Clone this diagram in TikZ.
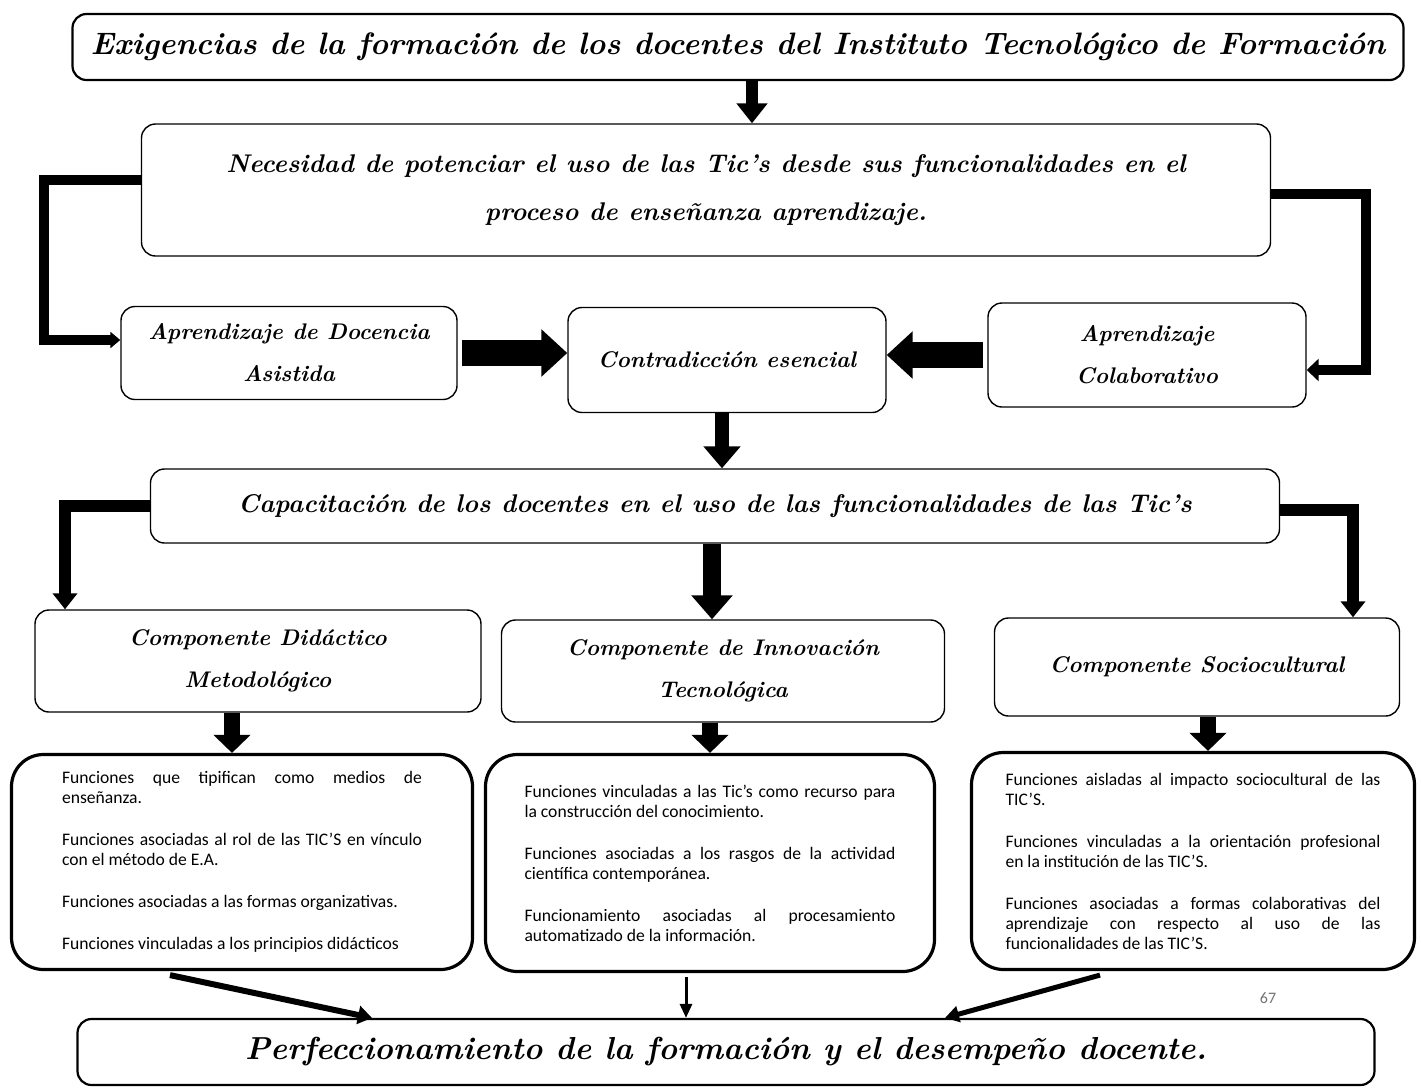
\documentclass[tikz,border=0pt]{standalone}
\usepackage{fontspec}
\newfontfamily\calibri{Carlito}
\usetikzlibrary{arrows.meta}
\hyphenpenalty=10000
\exhyphenpenalty=10000

\tikzset{
  caja/.style={draw, rounded corners=7pt, line width=0.7pt, align=center,
    font=\bfseries\itshape\fontsize{11.3}{21}\selectfont},
  cajafun/.style={draw, rounded corners=16pt, line width=1.6pt, align=justify,
    font=\calibri\fontsize{8.8}{10}\selectfont},
  flecha/.style n args={3}{line width=#1, -{Triangle[width=#2,length=#3]}},
}

\begin{document}
\begin{tikzpicture}[x=0.5pt, y=-0.5pt]
  \useasboundingbox (0,0) rectangle (1421,1089);

  % cajas
  \node[caja, line width=1.1pt, minimum width=665.5pt, minimum height=33pt,
        font=\bfseries\itshape\fontsize{15.5}{18}\selectfont] (exig) at (738,47)
        {Exigencias de la formación de los docentes del Instituto Tecnológico de Formación};
  \node[caja, minimum width=564.5pt, minimum height=66pt,
        font=\bfseries\itshape\fontsize{12.8}{24}\selectfont] (nec) at (706,190)
        {Necesidad de potenciar el uso de las Tic’s desde sus funcionalidades en el\\
         proceso de enseñanza aprendizaje.};
  \node[caja, minimum width=168pt, minimum height=46.5pt] (asis) at (289,353)
        {Aprendizaje de Docencia\\Asistida};
  \node[caja, minimum width=159pt, minimum height=52.5pt] (contra) at (727,360)
        {Contradicción esencial};
  \node[caja, minimum width=159pt, minimum height=52pt] (colab) at (1147,355)
        {Aprendizaje\\Colaborativo};
  \node[caja, minimum width=564.5pt, minimum height=37pt,
        font=\bfseries\itshape\fontsize{12.8}{16}\selectfont] (capac) at (715,506)
        {Capacitación de los docentes en el uso de las funcionalidades de las Tic’s};
  \node[caja, minimum width=223pt, minimum height=51pt] (comp1) at (258,661)
        {Componente Didáctico\\Metodológico};
  \node[caja, minimum width=221.5pt, minimum height=51pt] (comp2) at (723,671)
        {Componente de Innovación\\Tecnológica};
  \node[caja, minimum width=202.5pt, minimum height=49pt] (comp3) at (1197,667)
        {Componente Sociocultural};

  \node[cajafun, text width=180pt, minimum width=230.5pt, minimum height=107.5pt] (fun1) at (242,862)
        {Funciones que tipifican como medios de\linebreak enseñanza.\\[11pt]
         Funciones asociadas al rol de las TIC’S en vínculo\linebreak con el método de E.A.\\[11pt]
         Funciones asociadas a las formas organizativas.\\[11pt]
         Funciones vinculadas a los principios didácticos};
  \node[cajafun, text width=185.5pt, minimum width=224.5pt, minimum height=108.5pt] (fun2) at (710,863)
        {Funciones vinculadas a las Tic’s como recurso para\linebreak la construcción del conocimiento.\\[11pt]
         Funciones asociadas a los rasgos de la actividad\linebreak científica contemporánea.\\[11pt]
         Funcionamiento asociadas al procesamiento\linebreak automatizado de la información.};
  \node[cajafun, text width=187.5pt, minimum width=221.5pt, minimum height=108.5pt] (fun3) at (1193,861)
        {Funciones aisladas al impacto sociocultural de las\linebreak TIC’S.\\[11pt]
         Funciones vinculadas a la orientación profesional\linebreak en la institución de las TIC’S.\\[11pt]
         Funciones asociadas a formas colaborativas del\linebreak aprendizaje con respecto al uso de las\linebreak funcionalidades de las TIC’S.};

  \node[caja, line width=1.1pt, minimum width=648.5pt, minimum height=33pt,
        font=\bfseries\itshape\fontsize{15.9}{18}\selectfont] (perf) at (726,1052)
        {Perfeccionamiento de la formación y el desempeño docente.};
  \node[font=\calibri\fontsize{8}{10}\selectfont, text=black!55] (pag) at (1268,998) {67};

  % esquinas
  \coordinate (c1) at (65,0);
  \coordinate (c3) at (1353,0);

  % flechas
  \draw[flecha={6pt}{15pt}{10pt}] ([xshift=7pt]exig.south) -- ([xshift=7pt]exig.south |- nec.north);
  \draw[flecha={5pt}{8pt}{5pt}] ([yshift=5pt]nec.west) -- ++(-97,0) |- ([yshift=6.5pt]asis.west);
  \draw[flecha={5pt}{11pt}{6pt}] ([yshift=-2pt]nec.east) -- ++(95,0) |- ([yshift=-7.5pt]colab.east);
  \draw[flecha={13pt}{23pt}{13pt}] ([xshift=2pt]asis.east) -- (asis.east -| contra.west);
  \draw[flecha={13pt}{23pt}{13pt}] ([xshift=-2pt]colab.west) -- (colab.west -| contra.east);
  \draw[flecha={7pt}{18pt}{11pt}] ([xshift=-2.5pt]contra.south) -- ([xshift=-2.5pt]contra.south |- capac.north);

  \draw[flecha={6pt}{12pt}{8pt}] (capac.west) -| (c1 |- comp1.north);
  \draw[flecha={9pt}{20pt}{12pt}] ([xshift=-1.5pt]capac.south) -- ([xshift=-1.5pt]capac.south |- comp2.north);
  \draw[flecha={6pt}{12pt}{8pt}] ([yshift=-2pt]capac.east) -| (c3 |- comp3.north);

  \draw[flecha={8pt}{18pt}{9pt}] ([xshift=-13pt]comp1.south) -- ([xshift=-13pt]comp1.south |- fun1.north);
  \draw[flecha={8pt}{18pt}{9pt}] ([xshift=-6.5pt]comp2.south) -- ([xshift=-6.5pt]comp2.south |- fun2.north);
  \draw[flecha={8pt}{18pt}{9pt}] ([xshift=5.5pt]comp3.south) -- ([xshift=5.5pt]comp3.south |- fun3.north);

  \draw[flecha={3pt}{9pt}{7pt}] ([xshift=-36pt,yshift=-2pt]fun1.south) -- ([xshift=-177pt]perf.north);
  \draw[flecha={1.5pt}{6pt}{7pt}] ([xshift=-12pt,yshift=-2pt]fun2.south) -- ([xshift=-20pt]perf.north);
  \draw[flecha={2.5pt}{8pt}{7pt}] ([xshift=-46.5pt,yshift=-2pt]fun3.south) -- ([xshift=109.5pt]perf.north);
\end{tikzpicture}
\end{document}
